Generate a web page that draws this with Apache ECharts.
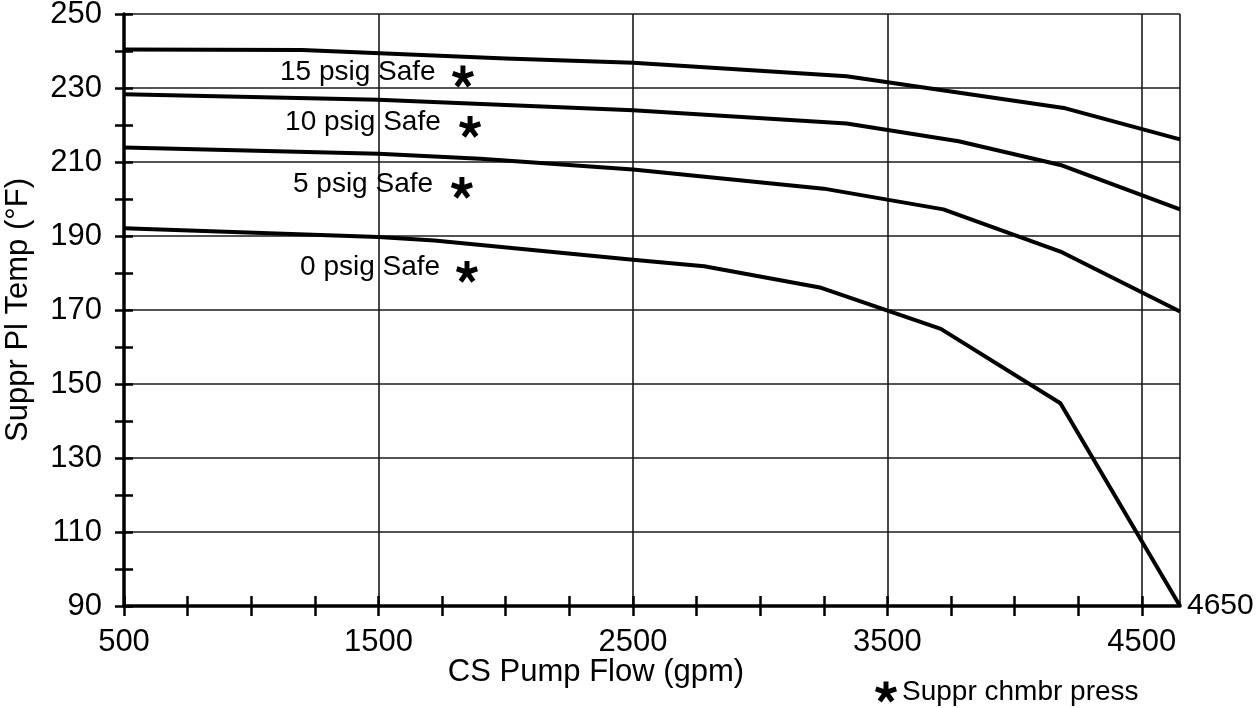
<!DOCTYPE html>
<html>
<head>
<meta charset="utf-8">
<script src="https://cdn.jsdelivr.net/npm/echarts@6/dist/echarts.min.js"></script>
<style>
  html, body { margin: 0; padding: 0; background: #fff; }
  #chart { width: 1257px; height: 708px; }
</style>
</head>
<body>
<div id="chart"></div>
<script>
// curves: flow (gpm) / suppression pool temp (°F)
const flow15 = [500, 1200, 2000, 2500, 3340, 4200, 4650]
const temp15 = [240.4, 240.3, 238.0, 236.8, 233.2, 224.5, 216.1]
const flow10 = [500, 1500, 2000, 2500, 3340, 3780, 4180, 4650]
const temp10 = [228.3, 226.8, 225.4, 224.0, 220.4, 215.6, 209.2, 197.2]
const flow5 = [500, 1500, 1900, 2500, 3250, 3720, 4180, 4650]
const temp5 = [213.9, 212.2, 210.9, 208.0, 202.8, 197.2, 185.8, 169.6]
const flow0 = [500, 1500, 1720, 2500, 2780, 3240, 3710, 4180, 4650]
const temp0 = [192.1, 189.7, 188.8, 183.6, 181.8, 176.0, 164.9, 144.8, 90]

// curve notes and the asterisk marks
const noteText = ['15 psig Safe', '10 psig Safe', '5 psig Safe', '0 psig Safe']
const noteX = [1113, 1133, 1164, 1192]
const noteY = [234.2, 220.7, 204.0, 181.5]
const starX = [1832, 1860, 1828, 1848]
const starY = [233.1, 219.5, 203.0, 180.3]

// axis ticks / labels
const xTicks = [500, 750, 1000, 1250, 1500, 1750, 2000, 2250, 2500, 2750, 3000, 3250, 3500, 3750, 4000, 4250, 4500]
const xLabels = [500, 1500, 2500, 3500, 4500]
const yLabels = [90, 110, 130, 150, 170, 190, 210, 230, 250]

const FONT = 'Liberation Sans, Arial, Helvetica, sans-serif'

// five-armed asterisk as a path
function starPath() {
  const w = 0.46, L = 1
  let d = ''
  const angs = [-90, -18, 54, 126, 198]
  const f = v => v.toFixed(3)
  for (const a of angs) {
    const r = a * Math.PI / 180
    const dx = Math.cos(r), dy = Math.sin(r)
    const nx = -dy * w / 2, ny = dx * w / 2
    d += 'M' + f(nx) + ' ' + f(ny) +
      'L' + f(dx * L + nx) + ' ' + f(dy * L + ny) +
      'L' + f(dx * L - nx) + ' ' + f(dy * L - ny) +
      'L' + f(-nx) + ' ' + f(-ny) + 'Z'
  }
  return 'path://' + d
}
const STAR = starPath()

function pairs(xs, ys) { return xs.map((x, i) => [x, ys[i]]) }

function curve(name, xs, ys) {
  return {
    name, type: 'line', data: pairs(xs, ys),
    xAxisIndex: 0, yAxisIndex: 0,
    symbol: 'none', smooth: false, silent: true,
    lineStyle: { color: '#000', width: 4, join: 'round' }
  }
}

const chart = echarts.init(document.getElementById('chart'), null, { renderer: 'canvas' })

const baseX = { type: 'value', min: 500, max: 4650, position: 'bottom', offset: 0 }
const baseY = { type: 'value', min: 90, max: 250, position: 'left', offset: 0 }

chart.setOption({
  animation: false,
  backgroundColor: '#fff',
  grid: { left: 124, right: 77, top: 14, bottom: 102, containLabel: false, outerBoundsMode: 'none' },
  xAxis: [
    Object.assign({}, baseX, {
      interval: 250,
      name: '4650', nameLocation: 'end', nameGap: 7,
      nameTextStyle: { fontFamily: FONT, fontSize: 30, color: '#000', align: 'left', verticalAlign: 'middle' },
      axisLine: { show: true, lineStyle: { color: '#000', width: 3.5 } },
      axisTick: { show: true, inside: false, length: 10, customValues: xTicks, lineStyle: { color: '#000', width: 2.5 } },
      axisLabel: {
        show: true, margin: 21, fontFamily: FONT, fontSize: 31, color: '#000',
        customValues: xLabels,
        formatter: v => xLabels.indexOf(v) >= 0 ? String(v) : ''
      },
      splitLine: { show: false }
    }),
    Object.assign({}, baseX, {
      interval: 250,
      axisLine: { show: false },
      axisTick: { show: true, inside: true, length: 10, customValues: xTicks, lineStyle: { color: '#000', width: 2.5 } },
      axisLabel: { show: false },
      splitLine: { show: false }
    }),
    Object.assign({}, baseX, {
      interval: 1000,
      axisLine: { show: false },
      axisTick: { show: false },
      axisLabel: { show: false },
      splitLine: { show: true, lineStyle: { color: '#1a1a1a', width: 1.6 } }
    })
  ],
  yAxis: [
    Object.assign({}, baseY, {
      interval: 10,
      name: 'Suppr Pl Temp (°F)', nameLocation: 'middle', nameGap: 90,
      nameTextStyle: { fontFamily: FONT, fontSize: 31, color: '#000' },
      axisLine: { show: true, lineStyle: { color: '#000', width: 3.5 } },
      axisTick: { show: true, inside: false, length: 9, lineStyle: { color: '#000', width: 2.5 } },
      axisLabel: {
        show: true, margin: 22, fontFamily: FONT, fontSize: 31, color: '#000',
        formatter: v => yLabels.indexOf(v) >= 0 ? String(v) : ''
      },
      splitLine: { show: false }
    }),
    Object.assign({}, baseY, {
      interval: 10,
      axisLine: { show: false },
      axisTick: { show: true, inside: true, length: 9, lineStyle: { color: '#000', width: 2.5 } },
      axisLabel: { show: false },
      splitLine: { show: false }
    }),
    Object.assign({}, baseY, {
      interval: 20,
      axisLine: { show: false },
      axisTick: { show: false },
      axisLabel: { show: false },
      splitLine: { show: true, lineStyle: { color: '#1a1a1a', width: 1.6 } }
    })
  ],
  legend: {
    show: true, left: 870, top: 673, orient: 'horizontal',
    itemWidth: 22, itemHeight: 22, selectedMode: false,
    textStyle: { fontFamily: FONT, fontSize: 28, color: '#000' },
    data: [{ name: 'Suppr chmbr press', icon: STAR, itemStyle: { color: '#000' } }]
  },
  graphic: [
    {
      type: 'text', x: 596, y: 657, silent: true,
      style: { text: 'CS Pump Flow (gpm)', font: '31px ' + FONT, fill: '#000', align: 'center', verticalAlign: 'top' }
    }
  ],
  series: [
    curve('15 psig', flow15, temp15),
    curve('10 psig', flow10, temp10),
    curve('5 psig', flow5, temp5),
    curve('0 psig', flow0, temp0),
    {
      name: 'notes', type: 'scatter', silent: true,
      data: noteX.map((x, i) => ({ name: noteText[i], value: [x, noteY[i]] })),
      symbolSize: 0,
      itemStyle: { color: '#000' },
      label: {
        show: true, position: 'right', distance: 0, formatter: '{b}',
        fontFamily: FONT, fontSize: 28, color: '#000', opacity: 1, verticalAlign: 'middle'
      }
    },
    {
      name: 'Suppr chmbr press', type: 'scatter', silent: true,
      data: pairs(starX, starY),
      symbol: STAR, symbolSize: [22, 23], symbolKeepAspect: true,
      itemStyle: { color: '#000', opacity: 1 }
    }
  ]
})
</script>
</body>
</html>
